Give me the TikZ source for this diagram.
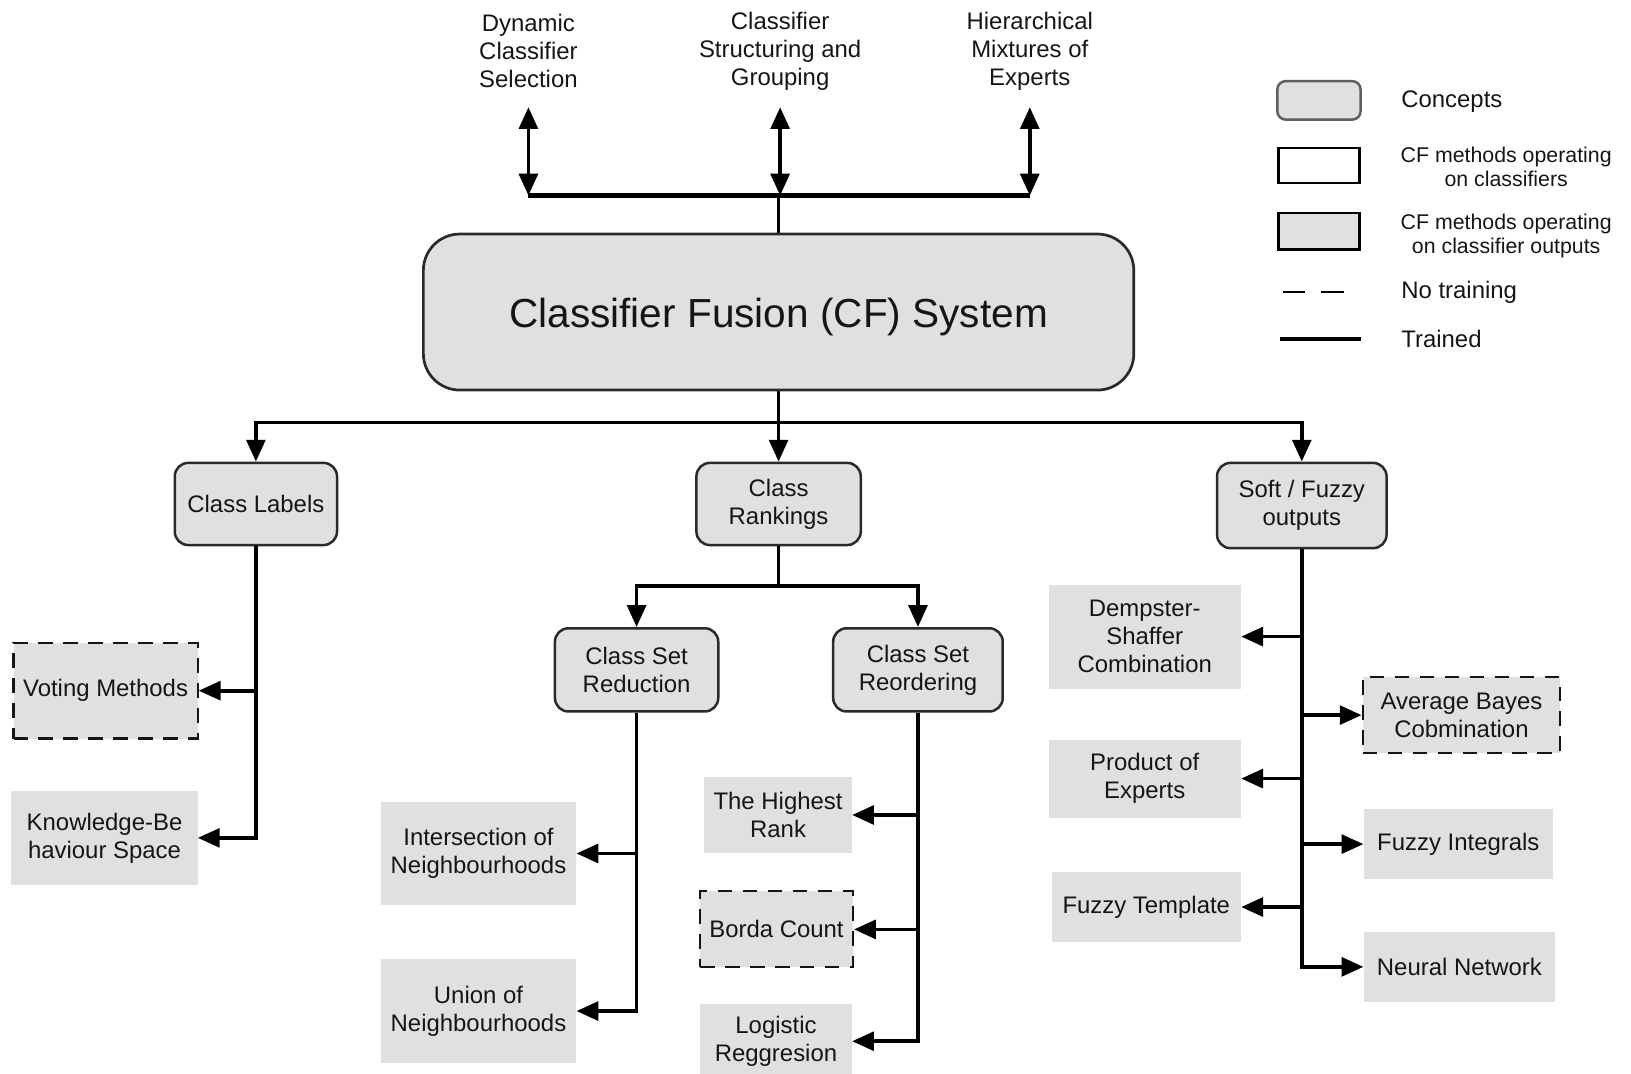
\documentclass[tikz,border=0pt]{standalone}
\usepackage{fontspec}
\setmainfont{Liberation Sans}
\usetikzlibrary{arrows.meta,calc}

\definecolor{boxgray}{HTML}{E0E0E0}
\definecolor{edgegray}{HTML}{2A2A2A}
\definecolor{inkc}{HTML}{151515}

\newcommand\lblfont{\fontsize{23}{27}\selectfont}
\newcommand\keyfont{\fontsize{20.5}{23}\selectfont}
\newcommand\titlefont{\fontsize{39}{46}\selectfont}

\begin{document}
\begin{tikzpicture}[x=1pt,y=-1pt,
  every node/.style={text=inkc, font=\lblfont},
  concept/.style={draw=edgegray, line width=2.4pt, fill=boxgray,
    rounded corners=13pt, align=center, inner sep=0pt},
  leaf/.style={fill=boxgray, align=center, inner sep=0pt},
  notrain/.style={leaf, draw=inkc, line width=2pt, dash pattern=on 14pt off 10pt},
  link/.style={line width=3.6pt, draw=black,
    -{Triangle[length=21pt,width=18pt]}},
  both/.style={line width=3.6pt, draw=black,
    {Triangle[length=21pt,width=18pt]}-{Triangle[length=21pt,width=18pt]}},
  stem/.style={line width=3pt, draw=black},
  tlabel/.style={align=center, inner sep=0pt}]

\useasboundingbox (0,0) rectangle (1568,1032);

% ---------- top: related topics ----------
\node[tlabel] (dcs) at (508,49) {Dynamic\\Classifier\\Selection};
\node[tlabel] (csg) at (750,49) {Classifier\\Structuring and\\Grouping};
\node[tlabel] (hme) at (990,49) {Hierarchical\\Mixtures of\\Experts};
\coordinate (tips) at (0,103);
\coordinate (topbar) at (0,188);

% ---------- central system ----------
\node[concept, rounded corners=35pt, line width=2.6pt,
      minimum width=683pt, minimum height=150pt, font=\titlefont,
      text height=38pt, text depth=8.5pt] (cf) at (748.5,300)
      {Classifier Fusion (CF) System};

\draw[both] (dcs.south |- tips) -- (dcs.south |- topbar);
\draw[both] (csg.south |- tips) -- (csg.south |- topbar);
\draw[both] (hme.south |- tips) -- (hme.south |- topbar);
\draw[line width=4.6pt] (dcs.south |- topbar) -- (hme.south |- topbar);
\draw[stem] (cf.north) -- (cf.north |- topbar);

% ---------- output types ----------
\node[concept, minimum width=156pt, minimum height=79pt] (cl) at (246,484.5) {Class Labels};
\node[concept, minimum width=158pt, minimum height=79pt] (cr) at (748.5,484.5) {Class\\Rankings};
\node[concept, minimum width=163pt, minimum height=82pt] (sf) at (1251.5,486) {Soft / Fuzzy\\outputs};

\draw[link] (cf.south) -- ++(0,30) -| (cl.north);
\draw[link] (cf.south) -- (cr.north);
\draw[link] (cf.south) -- ++(0,30) -| (sf.north);

% ---------- class labels branch ----------
\node[notrain, minimum width=177pt, minimum height=92pt] (vote) at (101.5,664) {Voting Methods};
\node[leaf, minimum width=179pt, minimum height=91pt] (kbs) at (100.5,805.5) {Knowledge-Be\\haviour Space};
\draw[link] (cl.south) |- (vote.east);
\draw[link] (cl.south) |- (kbs.east);

% ---------- class rankings branch ----------
\node[concept, minimum width=157pt, minimum height=80pt] (csr) at (612,644) {Class Set\\Reduction};
\node[concept, minimum width=163pt, minimum height=80pt] (cso) at (882.5,644) {Class Set\\Reordering};
\draw[link] (cr.south) -- ++(0,38) -| (csr.north);
\draw[link] (cr.south) -- ++(0,38) -| (cso.north);

\node[leaf, minimum width=188pt, minimum height=99pt] (inter) at (460,820.5) {Intersection of\\Neighbourhoods};
\node[leaf, minimum width=188pt, minimum height=100pt] (union) at (460,972) {Union of\\Neighbourhoods};
\draw[link] (csr.south) |- (inter.east);
\draw[link] (csr.south) |- (union.east);

\node[leaf, minimum width=142pt, minimum height=73pt] (hr) at (748,783.5) {The Highest\\Rank};
\node[notrain, minimum width=147pt, minimum height=73pt] (borda) at (746.5,893.5) {Borda Count};
\node[leaf, minimum width=146pt, minimum height=72pt] (logr) at (746,1001) {Logistic\\Reggresion};
\draw[link] (cso.south) |- (hr.east);
\draw[link] (cso.south) |- (borda.east);
\draw[link] (cso.south) |- (logr.east);

% ---------- soft / fuzzy branch ----------
\node[leaf, minimum width=185pt, minimum height=100pt] (ds) at (1100.5,612) {Dempster-\\Shaffer\\Combination};
\node[notrain, minimum width=190pt, minimum height=73pt] (ab) at (1405,687.5) {Average Bayes\\Cobmination};
\node[leaf, minimum width=185pt, minimum height=75pt] (poe) at (1100.5,748.5) {Product of\\Experts};
\node[leaf, minimum width=182pt, minimum height=67pt] (fi) at (1402,811.5) {Fuzzy Integrals};
\node[leaf, minimum width=182pt, minimum height=68pt] (ft) at (1102,872) {Fuzzy Template};
\node[leaf, minimum width=184pt, minimum height=67pt] (nn) at (1403,929.5) {Neural Network};
\draw[link] (sf.south) |- (ds.east);
\draw[link] (sf.south) |- (ab.west);
\draw[link] (sf.south) |- (poe.east);
\draw[link] (sf.south) |- (fi.west);
\draw[link] (sf.south) |- (ft.east);
\draw[link] (sf.south) |- (nn.west);

% ---------- legend ----------
\node[concept, draw=edgegray!75, rounded corners=8pt, minimum width=80pt, minimum height=37pt] (kc) at (1268,96.5) {};
\node[draw=black, line width=2.2pt, fill=white, minimum width=78pt, minimum height=34pt, inner sep=0pt] (kw) at (1268,159) {};
\node[draw=black, line width=2.2pt, fill=boxgray, minimum width=78pt, minimum height=35pt, inner sep=0pt] (kg) at (1268,222.5) {};
\draw[line width=2pt, dash pattern=on 22pt off 15pt] (1233,281) -- (1292,281);
\draw[line width=3.6pt] (1231,326) -- (1308,326);

\node[anchor=west, inner sep=0pt] at (1347,98) {Concepts};
\node[align=center, inner sep=0pt, font=\keyfont] at (1448,160.5) {CF methods operating\\on classifiers};
\node[align=center, inner sep=0pt, font=\keyfont] at (1448,226.5) {CF methods operating\\on classifier outputs};
\node[anchor=west, inner sep=0pt] at (1347,281) {No training};
\node[anchor=west, inner sep=0pt] at (1347,326) {Trained};
\end{tikzpicture}
\end{document}
